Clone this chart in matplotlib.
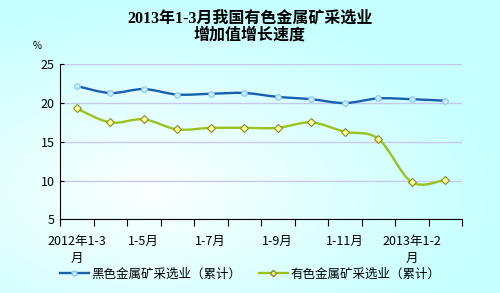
import numpy as np
import matplotlib.pyplot as plt
from matplotlib.path import Path
from matplotlib.patches import PathPatch

plt.rcParams['font.family'] = ['Noto Sans CJK SC', 'DejaVu Sans']

# ============================================================
#  DATA
# ============================================================
months = ['2012年1-3\n月', '1-4月', '1-5月', '1-6月', '1-7月', '1-8月', '1-9月',
          '1-10月', '1-11月', '1-12月', '2013年1-2\n月', '1-3月']
shown_ticks = [0, 2, 4, 6, 8, 10]
ferrous = [22.2, 21.3, 21.8, 21.1, 21.2, 21.3, 20.8, 20.5, 20.0, 20.6, 20.5, 20.3]
nonferrous = [19.3, 17.5, 17.9, 16.6, 16.8, 16.8, 16.8, 17.5, 16.3, 15.4, 9.8, 10.1]
yticks = [5, 10, 15, 20, 25]

title = '2013年1-3月我国有色金属矿采选业\n增加值增长速度'
label_ferrous = '黑色金属矿采选业（累计）'
label_nonferrous = '有色金属矿采选业（累计）'

BLUE = '#1a5fb0'
GREEN = '#9cc31c'


def smooth_path(xs, ys):
    # cubic bezier through the points (like excel "smoothed line")
    pts = np.column_stack([xs, ys]).astype(float)
    n = len(pts)
    verts = [pts[0]]
    codes = [Path.MOVETO]
    for i in range(n - 1):
        p0 = pts[max(i - 1, 0)]
        p1 = pts[i]
        p2 = pts[i + 1]
        p3 = pts[min(i + 2, n - 1)]
        c1 = p1 + (p2 - p0) / 6.0
        c2 = p2 - (p3 - p1) / 6.0
        verts += [c1, c2, p2]
        codes += [Path.CURVE4] * 3
    return Path(verts, codes)


fig = plt.figure(figsize=(5.0, 2.93), dpi=100)

# background gradient
bg = fig.add_axes([0, 0, 1, 1], zorder=0)
gx, gy = np.meshgrid(np.linspace(0, 1, 250), np.linspace(0, 1, 150))
r = np.sqrt(((gx - 0.30) / 1.0) ** 2 + ((gy - 0.35) / 0.9) ** 2)
r = np.clip(r / 0.7, 0, 1)
c_in = np.array([252, 255, 255]) / 255.0
c_out = np.array([198, 255, 255]) / 255.0
img = c_in[None, None, :] * (1 - r[..., None]) + c_out[None, None, :] * r[..., None]
bg.imshow(img, origin='lower', extent=[0, 1, 0, 1], aspect='auto')
bg.axis('off')

ax = fig.add_axes([0.12, 0.2515, 0.804, 0.529], zorder=1)
ax.patch.set_alpha(0)

x = np.arange(len(months))
ax.add_patch(PathPatch(smooth_path(x, ferrous), fill=False, edgecolor=BLUE, lw=1.7, zorder=3))
ax.add_patch(PathPatch(smooth_path(x, nonferrous), fill=False, edgecolor=GREEN, lw=1.7, zorder=3))
ax.plot(x, ferrous, ls='none', marker='o', ms=4, mfc='#c8ecff', mec='#8cc8f0', mew=0.8, zorder=4)
ax.plot(x, nonferrous, ls='none', marker='D', ms=3.8, mfc='#ffff99', mec='#8a8a20', mew=0.8, zorder=4)

ax.set_xlim(-0.5, len(months) - 0.5)
ax.set_ylim(5, 25)
ax.set_yticks(yticks)
ax.tick_params(axis='y', direction='in', length=3, labelsize=9, pad=4)
ax.set_xticks(np.arange(len(months) + 1) - 0.5)
ax.set_xticklabels([])
ax.tick_params(axis='x', direction='out', length=5)
ax.set_xticks(shown_ticks, [months[i] for i in shown_ticks], minor=True)
ax.tick_params(axis='x', which='minor', length=0, labelsize=9, pad=11)
for lbl in ax.get_xticklabels(minor=True):
    lbl.set_linespacing(1.45)
ax.grid(axis='y', color='#c8c8ec', lw=1.0)
ax.set_axisbelow(True)
for s in ['top', 'right']:
    ax.spines[s].set_visible(False)

fig.text(0.5, 0.965, title, ha='center', va='top', fontsize=11.5, fontweight='bold',
         linespacing=1.1, family=['Liberation Serif', 'Noto Sans CJK SC'])
fig.text(0.074, 0.843, '%', ha='center', va='center', fontsize=7)

h1, = ax.plot([], [], color=BLUE, lw=1.7, marker='o', ms=3.5, mfc='#c8ecff', mec='#8cc8f0')
h2, = ax.plot([], [], color=GREEN, lw=1.7, marker='D', ms=3.2, mfc='#ffff99', mec='#8a8a20')
fig.legend([h1, h2], [label_ferrous, label_nonferrous], loc='center', ncol=2,
           bbox_to_anchor=(0.5, 0.065), frameon=False, fontsize=9,
           handlelength=2.3, handletextpad=0.2, columnspacing=1.4)

fig.savefig('out.png', dpi=100)
